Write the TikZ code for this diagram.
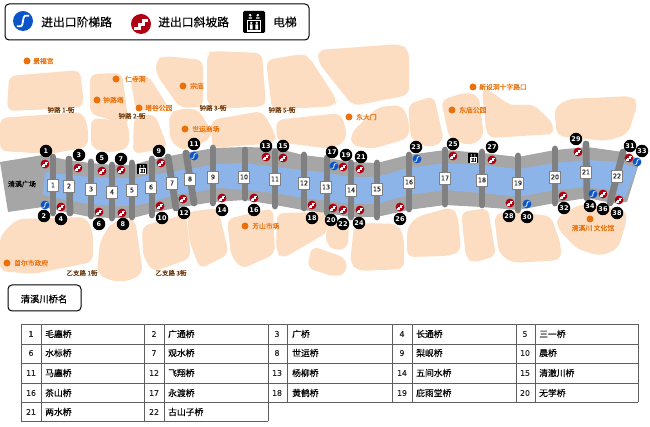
\documentclass[tikz,border=0pt]{standalone}
\usepackage{fontspec}
\setmainfont{DejaVu Sans}
\newfontfamily\cjk[FakeBold=0.25]{Noto Sans CJK SC}
\newfontfamily\dejam[FakeBold=0.3]{DejaVu Sans}
\definecolor{blockc}{RGB}{253,221,194}
\definecolor{orangec}{RGB}{232,113,10}
\definecolor{rivergray}{RGB}{166,166,166}
\definecolor{waterc}{RGB}{141,180,232}
\definecolor{bridgec}{RGB}{128,128,128}
\definecolor{iconblue}{RGB}{11,85,200}
\definecolor{iconred}{RGB}{176,0,18}
\definecolor{gridc}{RGB}{95,95,95}
\newcommand{\stairred}[3]{\begin{scope}[shift={(#1,#2)},scale=#3]
 \fill[iconred] (0,0) circle (1);
 \draw[white,line width=0.3*#3 pt,line join=miter] (-.68,.45)--(-.2,.45)--(-.2,.05)--(.2,.05)--(.2,-.35)--(.68,-.35);
\end{scope}}
\newcommand{\stairblue}[3]{\begin{scope}[shift={(#1,#2)},scale=#3]
 \fill[iconblue] (0,0) circle (1);
 \draw[white,line width=0.18*#3 pt] (-.62,.52)--(-.2,.52) .. controls (.05,.52) and (-.05,-.52) .. (.2,-.52)--(.62,-.52);
\end{scope}}
\newcommand{\lift}[3]{\begin{scope}[shift={(#1,#2)},scale=#3]
 \fill[black,rounded corners=0.12*#3 pt] (-1,-1) rectangle (1,1);
 \fill[white] (-.35,-.62) circle (.13) (.35,-.62) circle (.13);
 \fill[white] (-.5,-.42) rectangle (-.2,-.3) (.2,-.42) rectangle (.5,-.3);
 \draw[white,line width=0.1*#3 pt] (-.58,-.15) rectangle (.58,.82);
 \fill[white] (-.25,.08) circle (.12) (.25,.08) circle (.12);
 \fill[white] (-.37,.22) rectangle (-.13,.68) (.13,.22) rectangle (.37,.68);
\end{scope}}
\tikzset{
 x=1pt,y=-1pt,
 block/.style={fill=blockc,rounded corners=7pt},
 place/.style={text=orangec,font=\cjk\fontsize{6.8}{8}\selectfont,inner sep=0pt,anchor=west},
 road/.style={text=black!55!orangec,font=\cjk\fontsize{6.5}{8}\selectfont,inner sep=0pt},
 pin/.style={circle,fill=orangec,inner sep=0pt,minimum size=7pt},
 numdot/.style={circle,fill=black,text=white,inner sep=0pt,minimum size=12.5pt,font=\fontsize{6.5}{7}\bfseries\selectfont},
 bridgetag/.style={rectangle,fill=white,draw=bridgec,line width=.6pt,inner sep=0pt,minimum width=11pt,minimum height=12pt,text=black!85,font=\dejam\fontsize{6.3}{7}\selectfont},
 bridgebar/.style={draw=bridgec,line width=6.8pt,line cap=round},
 legendbox/.style={draw=black,line width=1pt,rounded corners=4pt,fill=white},
 legendtext/.style={inner sep=0pt,text=black,font=\cjk\fontsize{11.8}{13}\selectfont,anchor=west},
 cellnum/.style={inner sep=0pt,text=black!85,font=\dejam\fontsize{7.8}{9}\selectfont},
 cellname/.style={inner sep=0pt,anchor=west,text=black,font=\cjk\fontsize{8.8}{10}\selectfont},
 gridline/.style={draw=gridc,line width=.7pt},
}
\begin{document}
\begin{tikzpicture}
\useasboundingbox (0,0) rectangle (650,427);
% city blocks, upper row
\fill[block] (9,76)--(80,70)--(84,104)--(78,108)--(7,111)--cycle;
\fill[block] (90,74)--(122,73)--(129,125)--(90,114)--cycle;
\fill[block] (130,76)--(148,75)--(169,108)--(136,111)--cycle;
\fill[block] (156,60)--(164,56)--(203,60)--(203,107)--(180,108)--(156,74)--cycle;
\fill[block] (207,54)--(212,51)--(262,53)--(266,106)--(218,109)--(207,105)--cycle;
\fill[block] (266,60)--(302,54)--(309,57)--(337,100)--(335,106)--(272,110)--cycle;
\fill[block] (318,50)--(400,44)--(409,50)--(409,95)--(353,106)--(318,62)--cycle;
\fill[block] (0,118)--(82,112)--(88,126)--(88,147)--(50,154)--(0,151)--cycle;
\fill[block] (91,118)--(125,121)--(129,126)--(129,148)--(110,153)--(91,148)--cycle;
\fill[block] (134,117)--(155,114)--(168,148)--(133,154)--cycle;
\fill[block] (169,114)--(178,109)--(198,109)--(211,130)--(211,139)--(183,151)--(170,141)--cycle;
\fill[block] (211,120)--(262,111)--(275,133)--(276,143)--(212,148)--cycle;
\fill[block] (276,120)--(340,113)--(346,127)--(346,141)--(332,149)--(277,142)--cycle;
\fill[block] (351,133)--(378,107)--(402,105)--(409,120)--(409,138)--(372,149)--(351,145)--cycle;
\fill[block] (408,104)--(434,96)--(444,141)--(430,148)--(411,140)--cycle;
\fill[block] (441,100)--(467,92)--(479,96)--(484,137)--(470,146)--(449,138)--cycle;
\fill[block,rounded corners=5pt] (482,89)--(487,89)--(510,105)--(534,105)--(552,122)--(554,134)--(490,138)--(486,130)--cycle;
\fill[block] (554,108)--(568,99)--(632,96)--(638,103)--(628,134)--(607,141)--(557,136)--cycle;
% city blocks, lower row
\fill[block] (0,236)--(17,219)--(86,217)--(93,232)--(93,262)--(33,274)--(0,271)--cycle;
\fill[block] (100,241)--(112,222)--(135,219)--(143,273)--(130,281)--(110,281)--(97,273)--cycle;
\fill[block] (142,226)--(186,214)--(191,258)--(153,272)--(143,256)--cycle;
\fill[block] (187,212)--(218,208)--(229,254)--(200,269)--(189,240)--cycle;
\fill[block] (227,219)--(273,208)--(275,254)--(242,269)--(231,256)--cycle;
\fill[block] (277,213)--(328,212)--(328,232)--(282,259)--(276,251)--cycle;
\fill[block] (326,230)--(330,224)--(349,222)--(348,248)--(335,251)--(326,244)--cycle;
\fill[block] (312,246)--(346,258)--(347,273)--(335,277)--(307,268)--cycle;
\fill[block] (354,226)--(366,223)--(398,224)--(404,237)--(404,269)--(358,271)--(350,263)--cycle;
\fill[block] (407,228)--(416,217)--(452,207)--(458,216)--(461,252)--(447,256)--(407,257)--cycle;
\fill[block] (461,212)--(488,208)--(496,256)--(473,263)--(466,258)--cycle;
\fill[block] (494,215)--(508,211)--(551,216)--(561,245)--(561,260)--(513,263)--(499,254)--cycle;
\fill[block] (557,217)--(581,204)--(625,209)--(627,220)--(618,249)--(600,256)--(577,249)--(557,228)--cycle;
% river bed and water
\fill[rivergray] (0,162)--(43,155)--(67,160)--(90,163)--(113,165)--(133,165)--(150,160)--(185,153)--(215,148)--(245,147)--(275,148)--(303,155)--(327,158)--(350,162)--(377,163)--(408,155)--(445,150)--(482,153)--(518,157)--(555,150)--(587,147)--(623,152)--(640,160)--(627,202)--(612,203)--(587,198)--(555,203)--(518,210)--(482,207)--(445,205)--(408,210)--(377,217)--(350,217)--(327,213)--(303,210)--(275,205)--(245,200)--(213,202)--(195,205)--(175,208)--(152,213)--(133,218)--(112,218)--(90,217)--(70,213)--(43,207)--(8,212)--cycle;
\fill[waterc] (45,172)--(70,175)--(90,177)--(112,178)--(133,178)--(152,175)--(195,168)--(215,164)--(245,163)--(275,167)--(303,170)--(327,173)--(350,177)--(377,177)--(408,168)--(445,163)--(482,165)--(518,169)--(555,163)--(587,160)--(617,162)--(637,168)--(625,198)--(610,190)--(587,187)--(555,190)--(518,197)--(482,193)--(445,190)--(408,195)--(377,204)--(350,204)--(327,201)--(303,198)--(275,193)--(245,190)--(220,188)--(195,192)--(175,195)--(152,202)--(133,206)--(112,206)--(90,204)--(70,201)--(43,195)--cycle;
% bridges
\foreach \ax/\ay/\bx/\by in {53/157/53/213,69/159/70/213,91/162/91/216,112/165/112/218,132/163/132/217,152/159/152/215,168/157/176/208,186/153/194/203,213/148/213/203,245/150/245/198,275/152/275/206,304/155/304/208,327/158/327/213,351/163/351/217,377/163/377/217,409/155/409/209,445/150/445/204,482/152/482/205,518/156/518/210,555/149/555/203,586/144/587/198,623/152/610/203}
  \draw[bridgebar] (\ax,\ay)--(\bx,\by);
\foreach \n/\x/\y in {1/53/185,2/69/186,3/91/189,4/112/192,5/132/190,6/151/187,7/172/183,8/190/179,9/213/177,10/244/177,11/275/179,12/304/183,13/326/187,14/351/190,15/377/189,16/409/182,17/445/178,18/482/180,19/518/183,20/555/177,21/586/172,22/617/176}
  \node[bridgetag] (bridge\n) at (\x,\y) {\n};
% entrance icons
\foreach \x/\y in {45/164,78/168,61/207,102/171,99/212,121/170,122/213,161/163,160/206,183/199,266/157,222/198,283/158,254/198,343/167,360/169,312/205,333/208,343/210,360/210,400/207,453/156,492/160,510/203,578/152,563/196,603/194,619/200,629/158}
  \stairred{\x}{\y}{4.4};
\foreach \x/\y in {45/205,194/156,334/166,417/159,527/204,593/194,637/162}
  \stairblue{\x}{\y}{4.4};
\lift{142}{169}{5}
\lift{473}{158}{5}
% exit numbers
\foreach \n/\x/\y in {1/46/151,2/44/216,3/79/155,4/61/219,5/102/158,6/99/224,7/121/159,8/123/224,9/159/151,10/162/218,11/194/144,12/184/213,13/266/146,14/222/210,15/283/146,16/254/210,17/332/152,18/312/218,19/346/155,20/331/220,21/361/157,22/343/224,23/416/147,24/359/223,25/453/144,26/400/219,27/492/147,28/509/216,29/576/139,30/527/217,31/630/146,32/564/208,33/642/151,34/590/206,36/603/209,38/617/213}
  \node[numdot] (exit\n) at (\x,\y) {\n};
% place labels
\foreach \i/\x/\y/\tx/\t in {a/27/61/33/景福宫,b/116/79/125/仁寺洞,c/97/100/103/钟路塔,d/183/86/190/宗庙,e/139/108/145/塔谷公园,f/185/129/192/世运商场,g/349/117/356/东大门,h/473/87/479/新设洞十字路口,i/452/110/459/东庙公园,j/7/263/14/首尔市政府,k/245/226/252/芳山市场}{
  \node[pin] (pin\i) at (\x,\y) {};
  \node[place] (name\i) at (\tx,\y) {\t};
}
\node[pin] (pinl) at (590,219) {};
\node[place,anchor=center] (namel) at (593,228) {清溪川 文化馆};
\node[road] (road1) at (61,110) {钟路 1-街};
\node[road] (road2) at (132,116) {钟路 2-街};
\node[road] (road3) at (213,108) {钟路 3-街};
\node[road] (road5) at (282,110) {钟路 5-街};
\node[road] (road6) at (82,273) {乙支路 1街};
\node[road] (road7) at (171,273) {乙支路 3街};
\node[inner sep=0pt,text=black,font=\cjk\fontsize{7}{8}\selectfont] (plaza) at (22,184) {清溪广场};
% legend
\draw[legendbox] (5,4) rectangle (309,40);
\stairblue{23}{21}{10}
\node[legendtext] (leg1) at (41,22) {进出口阶梯路};
\stairred{141}{24}{10}
\node[legendtext] (leg2) at (158,22) {进出口斜坡路};
\lift{254}{22}{11}
\node[legendtext] (leg3) at (273,22) {电梯};
% table title
\draw[legendbox] (8,285) rectangle (81,311);
\node[inner sep=0pt,text=black,font=\cjk\fontsize{9.3}{11}\selectfont] (tabletitle) at (44,299) {清溪川桥名};
% table
\foreach \yy in {324,344,363,383} \draw[gridline] (21,\yy)--(638,\yy);
\draw[gridline] (21,402)--(638,402);
\draw[gridline] (21,421)--(268,421);
\foreach \xx in {21,41,144,164,268} \draw[gridline] (\xx,324)--(\xx,421);
\foreach \xx in {287,392,412,516,535,638} \draw[gridline] (\xx,324)--(\xx,402);
\foreach \n/\cx/\nx/\cy/\t in {1/31/45/334/毛廛桥,2/154/168/334/广通桥,3/277/292/334/广桥,4/402/416/334/长通桥,5/525/539/334/三一桥,
6/31/45/353/水标桥,7/154/168/353/观水桥,8/277/292/353/世运桥,9/402/416/353/梨岘桥,10/525/539/353/晨桥,
11/31/45/373/马廛桥,12/154/168/373/飞翔桥,13/277/292/373/杨柳桥,14/402/416/373/五间水桥,15/525/539/373/清澈川桥,
16/31/45/393/茶山桥,17/154/168/393/永渡桥,18/277/292/393/黄鹤桥,19/402/416/393/庇雨堂桥,20/525/539/393/无学桥,
21/31/45/412/两水桥,22/154/168/412/古山子桥}{
  \node[cellnum] (num\n) at (\cx,\cy) {\n};
  \node[cellname] (cell\n) at (\nx,\cy) {\t};
}
\end{tikzpicture}
\end{document}
